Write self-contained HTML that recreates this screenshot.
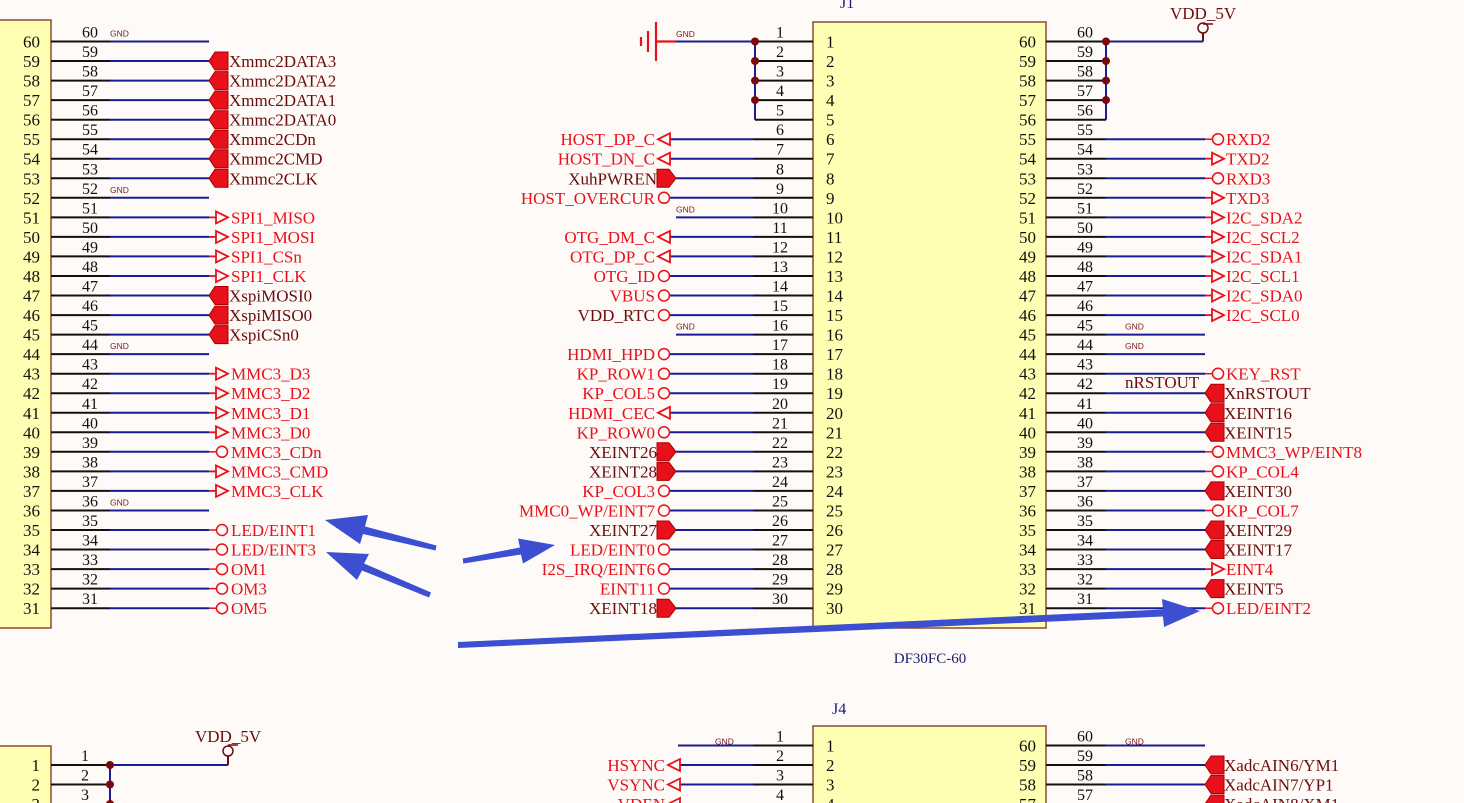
<!DOCTYPE html><html><head><meta charset="utf-8"><style>
html,body{margin:0;padding:0;background:#fdfaf7}
svg{display:block}
text{font-family:"Liberation Serif",serif}
.pn{font-size:17px;fill:#111}
.pe{text-anchor:end}
.en{font-size:16px;fill:#111;text-anchor:middle}
.g{font-family:"Liberation Sans",sans-serif;font-size:8.5px;fill:#7a1a1a}
.r{font-size:17px;fill:#e8101a}
.d{font-size:17px;fill:#6b0d0d}
.bk{stroke:#111;stroke-width:2}
.bl{stroke:#1c1c96;stroke-width:2}
</style></head><body>
<svg width="1464" height="803" viewBox="0 0 1464 803" xmlns="http://www.w3.org/2000/svg">
<defs>
<g id="fL"><polygon points="0,0 6,-9 19,-9 19,9 6,9" fill="#e8101a" stroke="#a00" stroke-width="1"/></g>
<g id="tR" fill="none" stroke="#e8101a" stroke-width="1.8"><line x1="0" y1="0" x2="7" y2="0"/><polygon points="7,-6 19,0 7,6"/></g>
<g id="cR" fill="none" stroke="#e8101a" stroke-width="1.5"><line x1="0" y1="0" x2="7" y2="0"/><circle cx="13" cy="0" r="5.5"/></g>
<g id="fR"><polygon points="0,0 -7,-9 -19,-9 -19,9 -7,9" fill="#e8101a" stroke="#a00" stroke-width="1"/></g>
<g id="tL" fill="none" stroke="#e8101a" stroke-width="1.8"><polygon points="0,-6 -12,0 0,6"/></g>
<g id="cL" fill="none" stroke="#e8101a" stroke-width="1.5"><circle cx="-6" cy="0" r="5.5"/></g>
</defs>

<!-- LEFT BLOCK -->
<rect x="-2" y="20" width="53" height="608" fill="#ffffb4" stroke="#8c4a2f" stroke-width="1.5"/>
<g id="LB">
<g transform="translate(0,41.5)"><text class="pn pe" x="40" y="6">60</text><line class="bk" x1="51" x2="110"/><line class="bl" x1="110" x2="209"/><text class="en" x="90" y="-4">60</text><text class="g" x="110" y="-5">GND</text></g>
<g transform="translate(0,61)"><text class="pn pe" x="40" y="6">59</text><line class="bk" x1="51" x2="110"/><line class="bl" x1="110" x2="209"/><text class="en" x="90" y="-4">59</text><use href="#fL" x="209"/><text class="d" x="229" y="6">Xmmc2DATA3</text></g>
<g transform="translate(0,80.6)"><text class="pn pe" x="40" y="6">58</text><line class="bk" x1="51" x2="110"/><line class="bl" x1="110" x2="209"/><text class="en" x="90" y="-4">58</text><use href="#fL" x="209"/><text class="d" x="229" y="6">Xmmc2DATA2</text></g>
<g transform="translate(0,100.1)"><text class="pn pe" x="40" y="6">57</text><line class="bk" x1="51" x2="110"/><line class="bl" x1="110" x2="209"/><text class="en" x="90" y="-4">57</text><use href="#fL" x="209"/><text class="d" x="229" y="6">Xmmc2DATA1</text></g>
<g transform="translate(0,119.7)"><text class="pn pe" x="40" y="6">56</text><line class="bk" x1="51" x2="110"/><line class="bl" x1="110" x2="209"/><text class="en" x="90" y="-4">56</text><use href="#fL" x="209"/><text class="d" x="229" y="6">Xmmc2DATA0</text></g>
<g transform="translate(0,139.2)"><text class="pn pe" x="40" y="6">55</text><line class="bk" x1="51" x2="110"/><line class="bl" x1="110" x2="209"/><text class="en" x="90" y="-4">55</text><use href="#fL" x="209"/><text class="d" x="229" y="6">Xmmc2CDn</text></g>
<g transform="translate(0,158.7)"><text class="pn pe" x="40" y="6">54</text><line class="bk" x1="51" x2="110"/><line class="bl" x1="110" x2="209"/><text class="en" x="90" y="-4">54</text><use href="#fL" x="209"/><text class="d" x="229" y="6">Xmmc2CMD</text></g>
<g transform="translate(0,178.3)"><text class="pn pe" x="40" y="6">53</text><line class="bk" x1="51" x2="110"/><line class="bl" x1="110" x2="209"/><text class="en" x="90" y="-4">53</text><use href="#fL" x="209"/><text class="d" x="229" y="6">Xmmc2CLK</text></g>
<g transform="translate(0,197.8)"><text class="pn pe" x="40" y="6">52</text><line class="bk" x1="51" x2="110"/><line class="bl" x1="110" x2="209"/><text class="en" x="90" y="-4">52</text><text class="g" x="110" y="-5">GND</text></g>
<g transform="translate(0,217.4)"><text class="pn pe" x="40" y="6">51</text><line class="bk" x1="51" x2="110"/><line class="bl" x1="110" x2="209"/><text class="en" x="90" y="-4">51</text><use href="#tR" x="209"/><text class="r" x="231" y="6">SPI1_MISO</text></g>
<g transform="translate(0,236.9)"><text class="pn pe" x="40" y="6">50</text><line class="bk" x1="51" x2="110"/><line class="bl" x1="110" x2="209"/><text class="en" x="90" y="-4">50</text><use href="#tR" x="209"/><text class="r" x="231" y="6">SPI1_MOSI</text></g>
<g transform="translate(0,256.4)"><text class="pn pe" x="40" y="6">49</text><line class="bk" x1="51" x2="110"/><line class="bl" x1="110" x2="209"/><text class="en" x="90" y="-4">49</text><use href="#tR" x="209"/><text class="r" x="231" y="6">SPI1_CSn</text></g>
<g transform="translate(0,276)"><text class="pn pe" x="40" y="6">48</text><line class="bk" x1="51" x2="110"/><line class="bl" x1="110" x2="209"/><text class="en" x="90" y="-4">48</text><use href="#tR" x="209"/><text class="r" x="231" y="6">SPI1_CLK</text></g>
<g transform="translate(0,295.5)"><text class="pn pe" x="40" y="6">47</text><line class="bk" x1="51" x2="110"/><line class="bl" x1="110" x2="209"/><text class="en" x="90" y="-4">47</text><use href="#fL" x="209"/><text class="d" x="229" y="6">XspiMOSI0</text></g>
<g transform="translate(0,315.1)"><text class="pn pe" x="40" y="6">46</text><line class="bk" x1="51" x2="110"/><line class="bl" x1="110" x2="209"/><text class="en" x="90" y="-4">46</text><use href="#fL" x="209"/><text class="d" x="229" y="6">XspiMISO0</text></g>
<g transform="translate(0,334.6)"><text class="pn pe" x="40" y="6">45</text><line class="bk" x1="51" x2="110"/><line class="bl" x1="110" x2="209"/><text class="en" x="90" y="-4">45</text><use href="#fL" x="209"/><text class="d" x="229" y="6">XspiCSn0</text></g>
<g transform="translate(0,354.1)"><text class="pn pe" x="40" y="6">44</text><line class="bk" x1="51" x2="110"/><line class="bl" x1="110" x2="209"/><text class="en" x="90" y="-4">44</text><text class="g" x="110" y="-5">GND</text></g>
<g transform="translate(0,373.7)"><text class="pn pe" x="40" y="6">43</text><line class="bk" x1="51" x2="110"/><line class="bl" x1="110" x2="209"/><text class="en" x="90" y="-4">43</text><use href="#tR" x="209"/><text class="r" x="231" y="6">MMC3_D3</text></g>
<g transform="translate(0,393.2)"><text class="pn pe" x="40" y="6">42</text><line class="bk" x1="51" x2="110"/><line class="bl" x1="110" x2="209"/><text class="en" x="90" y="-4">42</text><use href="#tR" x="209"/><text class="r" x="231" y="6">MMC3_D2</text></g>
<g transform="translate(0,412.8)"><text class="pn pe" x="40" y="6">41</text><line class="bk" x1="51" x2="110"/><line class="bl" x1="110" x2="209"/><text class="en" x="90" y="-4">41</text><use href="#tR" x="209"/><text class="r" x="231" y="6">MMC3_D1</text></g>
<g transform="translate(0,432.3)"><text class="pn pe" x="40" y="6">40</text><line class="bk" x1="51" x2="110"/><line class="bl" x1="110" x2="209"/><text class="en" x="90" y="-4">40</text><use href="#tR" x="209"/><text class="r" x="231" y="6">MMC3_D0</text></g>
<g transform="translate(0,451.8)"><text class="pn pe" x="40" y="6">39</text><line class="bk" x1="51" x2="110"/><line class="bl" x1="110" x2="209"/><text class="en" x="90" y="-4">39</text><use href="#cR" x="209"/><text class="r" x="231" y="6">MMC3_CDn</text></g>
<g transform="translate(0,471.4)"><text class="pn pe" x="40" y="6">38</text><line class="bk" x1="51" x2="110"/><line class="bl" x1="110" x2="209"/><text class="en" x="90" y="-4">38</text><use href="#tR" x="209"/><text class="r" x="231" y="6">MMC3_CMD</text></g>
<g transform="translate(0,490.9)"><text class="pn pe" x="40" y="6">37</text><line class="bk" x1="51" x2="110"/><line class="bl" x1="110" x2="209"/><text class="en" x="90" y="-4">37</text><use href="#tR" x="209"/><text class="r" x="231" y="6">MMC3_CLK</text></g>
<g transform="translate(0,510.5)"><text class="pn pe" x="40" y="6">36</text><line class="bk" x1="51" x2="110"/><line class="bl" x1="110" x2="209"/><text class="en" x="90" y="-4">36</text><text class="g" x="110" y="-5">GND</text></g>
<g transform="translate(0,530)"><text class="pn pe" x="40" y="6">35</text><line class="bk" x1="51" x2="110"/><line class="bl" x1="110" x2="209"/><text class="en" x="90" y="-4">35</text><use href="#cR" x="209"/><text class="r" x="231" y="6">LED/EINT1</text></g>
<g transform="translate(0,549.5)"><text class="pn pe" x="40" y="6">34</text><line class="bk" x1="51" x2="110"/><line class="bl" x1="110" x2="209"/><text class="en" x="90" y="-4">34</text><use href="#cR" x="209"/><text class="r" x="231" y="6">LED/EINT3</text></g>
<g transform="translate(0,569.1)"><text class="pn pe" x="40" y="6">33</text><line class="bk" x1="51" x2="110"/><line class="bl" x1="110" x2="209"/><text class="en" x="90" y="-4">33</text><use href="#cR" x="209"/><text class="r" x="231" y="6">OM1</text></g>
<g transform="translate(0,588.6)"><text class="pn pe" x="40" y="6">32</text><line class="bk" x1="51" x2="110"/><line class="bl" x1="110" x2="209"/><text class="en" x="90" y="-4">32</text><use href="#cR" x="209"/><text class="r" x="231" y="6">OM3</text></g>
<g transform="translate(0,608.2)"><text class="pn pe" x="40" y="6">31</text><line class="bk" x1="51" x2="110"/><line class="bl" x1="110" x2="209"/><text class="en" x="90" y="-4">31</text><use href="#cR" x="209"/><text class="r" x="231" y="6">OM5</text></g>
</g>

<!-- J1 -->
<text x="840" y="8" font-size="16" fill="#1c1c80">J1</text>
<rect x="813" y="22" width="233" height="606" fill="#ffffb4" stroke="#8c4a2f" stroke-width="1.5"/>
<text x="930" y="663" font-size="15" fill="#1c1c6e" text-anchor="middle">DF30FC-60</text>
<g stroke="#e8101a" stroke-width="2.2"><line x1="641" y1="37" x2="641" y2="46"/><line x1="648" y1="31" x2="648" y2="52"/><line x1="656" y1="22" x2="656" y2="61"/><line x1="656" y1="41.5" x2="676" y2="41.5"/></g>
<text class="g" x="676" y="37">GND</text>
<line class="bl" x1="676" y1="41.5" x2="753" y2="41.5"/>
<line class="bl" x1="755" y1="41.5" x2="755" y2="119.7"/>
<g>
<g transform="translate(0,41.5)"><line class="bk" x1="755" x2="813"/><text class="en" x="780" y="-4">1</text><text class="pn" x="826" y="6">1</text><circle cx="755" r="4" fill="#7a0a0a"/></g>
<g transform="translate(0,61)"><line class="bk" x1="755" x2="813"/><text class="en" x="780" y="-4">2</text><text class="pn" x="826" y="6">2</text><circle cx="755" r="4" fill="#7a0a0a"/></g>
<g transform="translate(0,80.6)"><line class="bk" x1="755" x2="813"/><text class="en" x="780" y="-4">3</text><text class="pn" x="826" y="6">3</text><circle cx="755" r="4" fill="#7a0a0a"/></g>
<g transform="translate(0,100.1)"><line class="bk" x1="755" x2="813"/><text class="en" x="780" y="-4">4</text><text class="pn" x="826" y="6">4</text><circle cx="755" r="4" fill="#7a0a0a"/></g>
<g transform="translate(0,119.7)"><line class="bk" x1="755" x2="813"/><text class="en" x="780" y="-4">5</text><text class="pn" x="826" y="6">5</text></g>
<g transform="translate(0,139.2)"><line class="bk" x1="753" x2="813"/><line class="bl" x1="670" x2="753"/><text class="en" x="780" y="-4">6</text><text class="pn" x="826" y="6">6</text><use href="#tL" x="670"/><text class="r pe" x="655" y="6">HOST_DP_C</text></g>
<g transform="translate(0,158.7)"><line class="bk" x1="753" x2="813"/><line class="bl" x1="670" x2="753"/><text class="en" x="780" y="-4">7</text><text class="pn" x="826" y="6">7</text><use href="#tL" x="670"/><text class="r pe" x="655" y="6">HOST_DN_C</text></g>
<g transform="translate(0,178.3)"><line class="bk" x1="753" x2="813"/><line class="bl" x1="676" x2="753"/><text class="en" x="780" y="-4">8</text><text class="pn" x="826" y="6">8</text><use href="#fR" x="676"/><text class="d pe" x="657" y="6">XuhPWREN</text></g>
<g transform="translate(0,197.8)"><line class="bk" x1="753" x2="813"/><line class="bl" x1="670" x2="753"/><text class="en" x="780" y="-4">9</text><text class="pn" x="826" y="6">9</text><use href="#cL" x="670"/><text class="r pe" x="655" y="6">HOST_OVERCUR</text></g>
<g transform="translate(0,217.4)"><line class="bk" x1="753" x2="813"/><line class="bl" x1="676" x2="753"/><text class="en" x="780" y="-4">10</text><text class="pn" x="826" y="6">10</text><text class="g" x="676" y="-5">GND</text></g>
<g transform="translate(0,236.9)"><line class="bk" x1="753" x2="813"/><line class="bl" x1="670" x2="753"/><text class="en" x="780" y="-4">11</text><text class="pn" x="826" y="6">11</text><use href="#tL" x="670"/><text class="r pe" x="655" y="6">OTG_DM_C</text></g>
<g transform="translate(0,256.4)"><line class="bk" x1="753" x2="813"/><line class="bl" x1="670" x2="753"/><text class="en" x="780" y="-4">12</text><text class="pn" x="826" y="6">12</text><use href="#tL" x="670"/><text class="r pe" x="655" y="6">OTG_DP_C</text></g>
<g transform="translate(0,276)"><line class="bk" x1="753" x2="813"/><line class="bl" x1="670" x2="753"/><text class="en" x="780" y="-4">13</text><text class="pn" x="826" y="6">13</text><use href="#cL" x="670"/><text class="r pe" x="655" y="6">OTG_ID</text></g>
<g transform="translate(0,295.5)"><line class="bk" x1="753" x2="813"/><line class="bl" x1="670" x2="753"/><text class="en" x="780" y="-4">14</text><text class="pn" x="826" y="6">14</text><use href="#cL" x="670"/><text class="r pe" x="655" y="6">VBUS</text></g>
<g transform="translate(0,315.1)"><line class="bk" x1="753" x2="813"/><line class="bl" x1="670" x2="753"/><text class="en" x="780" y="-4">15</text><text class="pn" x="826" y="6">15</text><use href="#cL" x="670" style="stroke:#6b0d0d"/><text class="d pe" x="655" y="6">VDD_RTC</text></g>
<g transform="translate(0,334.6)"><line class="bk" x1="753" x2="813"/><line class="bl" x1="676" x2="753"/><text class="en" x="780" y="-4">16</text><text class="pn" x="826" y="6">16</text><text class="g" x="676" y="-5">GND</text></g>
<g transform="translate(0,354.1)"><line class="bk" x1="753" x2="813"/><line class="bl" x1="670" x2="753"/><text class="en" x="780" y="-4">17</text><text class="pn" x="826" y="6">17</text><use href="#cL" x="670"/><text class="r pe" x="655" y="6">HDMI_HPD</text></g>
<g transform="translate(0,373.7)"><line class="bk" x1="753" x2="813"/><line class="bl" x1="670" x2="753"/><text class="en" x="780" y="-4">18</text><text class="pn" x="826" y="6">18</text><use href="#cL" x="670"/><text class="r pe" x="655" y="6">KP_ROW1</text></g>
<g transform="translate(0,393.2)"><line class="bk" x1="753" x2="813"/><line class="bl" x1="670" x2="753"/><text class="en" x="780" y="-4">19</text><text class="pn" x="826" y="6">19</text><use href="#cL" x="670"/><text class="r pe" x="655" y="6">KP_COL5</text></g>
<g transform="translate(0,412.8)"><line class="bk" x1="753" x2="813"/><line class="bl" x1="670" x2="753"/><text class="en" x="780" y="-4">20</text><text class="pn" x="826" y="6">20</text><use href="#tL" x="670"/><text class="r pe" x="655" y="6">HDMI_CEC</text></g>
<g transform="translate(0,432.3)"><line class="bk" x1="753" x2="813"/><line class="bl" x1="670" x2="753"/><text class="en" x="780" y="-4">21</text><text class="pn" x="826" y="6">21</text><use href="#cL" x="670"/><text class="r pe" x="655" y="6">KP_ROW0</text></g>
<g transform="translate(0,451.8)"><line class="bk" x1="753" x2="813"/><line class="bl" x1="676" x2="753"/><text class="en" x="780" y="-4">22</text><text class="pn" x="826" y="6">22</text><use href="#fR" x="676"/><text class="d pe" x="657" y="6">XEINT26</text></g>
<g transform="translate(0,471.4)"><line class="bk" x1="753" x2="813"/><line class="bl" x1="676" x2="753"/><text class="en" x="780" y="-4">23</text><text class="pn" x="826" y="6">23</text><use href="#fR" x="676"/><text class="d pe" x="657" y="6">XEINT28</text></g>
<g transform="translate(0,490.9)"><line class="bk" x1="753" x2="813"/><line class="bl" x1="670" x2="753"/><text class="en" x="780" y="-4">24</text><text class="pn" x="826" y="6">24</text><use href="#cL" x="670"/><text class="r pe" x="655" y="6">KP_COL3</text></g>
<g transform="translate(0,510.5)"><line class="bk" x1="753" x2="813"/><line class="bl" x1="670" x2="753"/><text class="en" x="780" y="-4">25</text><text class="pn" x="826" y="6">25</text><use href="#cL" x="670"/><text class="r pe" x="655" y="6">MMC0_WP/EINT7</text></g>
<g transform="translate(0,530)"><line class="bk" x1="753" x2="813"/><line class="bl" x1="676" x2="753"/><text class="en" x="780" y="-4">26</text><text class="pn" x="826" y="6">26</text><use href="#fR" x="676"/><text class="d pe" x="657" y="6">XEINT27</text></g>
<g transform="translate(0,549.5)"><line class="bk" x1="753" x2="813"/><line class="bl" x1="670" x2="753"/><text class="en" x="780" y="-4">27</text><text class="pn" x="826" y="6">27</text><use href="#cL" x="670"/><text class="r pe" x="655" y="6">LED/EINT0</text></g>
<g transform="translate(0,569.1)"><line class="bk" x1="753" x2="813"/><line class="bl" x1="670" x2="753"/><text class="en" x="780" y="-4">28</text><text class="pn" x="826" y="6">28</text><use href="#cL" x="670"/><text class="r pe" x="655" y="6">I2S_IRQ/EINT6</text></g>
<g transform="translate(0,588.6)"><line class="bk" x1="753" x2="813"/><line class="bl" x1="670" x2="753"/><text class="en" x="780" y="-4">29</text><text class="pn" x="826" y="6">29</text><use href="#cL" x="670"/><text class="r pe" x="655" y="6">EINT11</text></g>
<g transform="translate(0,608.2)"><line class="bk" x1="753" x2="813"/><line class="bl" x1="676" x2="753"/><text class="en" x="780" y="-4">30</text><text class="pn" x="826" y="6">30</text><use href="#fR" x="676"/><text class="d pe" x="657" y="6">XEINT18</text></g>
</g>

<!-- J1 right -->
<text x="1170" y="19" font-size="17" fill="#6b0d0d">VDD_5V</text>
<line x1="1203" y1="24" x2="1213" y2="24" stroke="#6b0d0d" stroke-width="1.5"/>
<circle cx="1203" cy="28" r="5" fill="none" stroke="#6b0d0d" stroke-width="1.5"/>
<line x1="1203" y1="33" x2="1203" y2="41.5" stroke="#6b0d0d" stroke-width="2"/>
<line class="bl" x1="1106" y1="41.5" x2="1203" y2="41.5"/>
<line class="bl" x1="1106" y1="41.5" x2="1106" y2="119.7"/>
<g>
<g transform="translate(0,41.5)"><line class="bk" x1="1046" x2="1106"/><text class="en" x="1085" y="-4">60</text><text class="pn pe" x="1036" y="6">60</text><circle cx="1106" r="4" fill="#7a0a0a"/></g>
<g transform="translate(0,61)"><line class="bk" x1="1046" x2="1106"/><text class="en" x="1085" y="-4">59</text><text class="pn pe" x="1036" y="6">59</text><circle cx="1106" r="4" fill="#7a0a0a"/></g>
<g transform="translate(0,80.6)"><line class="bk" x1="1046" x2="1106"/><text class="en" x="1085" y="-4">58</text><text class="pn pe" x="1036" y="6">58</text><circle cx="1106" r="4" fill="#7a0a0a"/></g>
<g transform="translate(0,100.1)"><line class="bk" x1="1046" x2="1106"/><text class="en" x="1085" y="-4">57</text><text class="pn pe" x="1036" y="6">57</text><circle cx="1106" r="4" fill="#7a0a0a"/></g>
<g transform="translate(0,119.7)"><line class="bk" x1="1046" x2="1106"/><text class="en" x="1085" y="-4">56</text><text class="pn pe" x="1036" y="6">56</text></g>
<g transform="translate(0,139.2)"><line class="bk" x1="1046" x2="1106"/><line class="bl" x1="1106" x2="1205"/><text class="en" x="1085" y="-4">55</text><text class="pn pe" x="1036" y="6">55</text><use href="#cR" x="1205"/><text class="r" x="1226" y="6">RXD2</text></g>
<g transform="translate(0,158.7)"><line class="bk" x1="1046" x2="1106"/><line class="bl" x1="1106" x2="1205"/><text class="en" x="1085" y="-4">54</text><text class="pn pe" x="1036" y="6">54</text><use href="#tR" x="1205"/><text class="r" x="1226" y="6">TXD2</text></g>
<g transform="translate(0,178.3)"><line class="bk" x1="1046" x2="1106"/><line class="bl" x1="1106" x2="1205"/><text class="en" x="1085" y="-4">53</text><text class="pn pe" x="1036" y="6">53</text><use href="#cR" x="1205"/><text class="r" x="1226" y="6">RXD3</text></g>
<g transform="translate(0,197.8)"><line class="bk" x1="1046" x2="1106"/><line class="bl" x1="1106" x2="1205"/><text class="en" x="1085" y="-4">52</text><text class="pn pe" x="1036" y="6">52</text><use href="#tR" x="1205"/><text class="r" x="1226" y="6">TXD3</text></g>
<g transform="translate(0,217.4)"><line class="bk" x1="1046" x2="1106"/><line class="bl" x1="1106" x2="1205"/><text class="en" x="1085" y="-4">51</text><text class="pn pe" x="1036" y="6">51</text><use href="#tR" x="1205"/><text class="r" x="1226" y="6">I2C_SDA2</text></g>
<g transform="translate(0,236.9)"><line class="bk" x1="1046" x2="1106"/><line class="bl" x1="1106" x2="1205"/><text class="en" x="1085" y="-4">50</text><text class="pn pe" x="1036" y="6">50</text><use href="#tR" x="1205"/><text class="r" x="1226" y="6">I2C_SCL2</text></g>
<g transform="translate(0,256.4)"><line class="bk" x1="1046" x2="1106"/><line class="bl" x1="1106" x2="1205"/><text class="en" x="1085" y="-4">49</text><text class="pn pe" x="1036" y="6">49</text><use href="#tR" x="1205"/><text class="r" x="1226" y="6">I2C_SDA1</text></g>
<g transform="translate(0,276)"><line class="bk" x1="1046" x2="1106"/><line class="bl" x1="1106" x2="1205"/><text class="en" x="1085" y="-4">48</text><text class="pn pe" x="1036" y="6">48</text><use href="#tR" x="1205"/><text class="r" x="1226" y="6">I2C_SCL1</text></g>
<g transform="translate(0,295.5)"><line class="bk" x1="1046" x2="1106"/><line class="bl" x1="1106" x2="1205"/><text class="en" x="1085" y="-4">47</text><text class="pn pe" x="1036" y="6">47</text><use href="#tR" x="1205"/><text class="r" x="1226" y="6">I2C_SDA0</text></g>
<g transform="translate(0,315.1)"><line class="bk" x1="1046" x2="1106"/><line class="bl" x1="1106" x2="1205"/><text class="en" x="1085" y="-4">46</text><text class="pn pe" x="1036" y="6">46</text><use href="#tR" x="1205"/><text class="r" x="1226" y="6">I2C_SCL0</text></g>
<g transform="translate(0,334.6)"><line class="bk" x1="1046" x2="1106"/><line class="bl" x1="1106" x2="1205"/><text class="en" x="1085" y="-4">45</text><text class="pn pe" x="1036" y="6">45</text><text class="g" x="1125" y="-5">GND</text></g>
<g transform="translate(0,354.1)"><line class="bk" x1="1046" x2="1106"/><line class="bl" x1="1106" x2="1205"/><text class="en" x="1085" y="-4">44</text><text class="pn pe" x="1036" y="6">44</text><text class="g" x="1125" y="-5">GND</text></g>
<g transform="translate(0,373.7)"><line class="bk" x1="1046" x2="1106"/><line class="bl" x1="1106" x2="1205"/><text class="en" x="1085" y="-4">43</text><text class="pn pe" x="1036" y="6">43</text><use href="#cR" x="1205"/><text class="r" x="1226" y="6">KEY_RST</text></g>
<g transform="translate(0,393.2)"><line class="bk" x1="1046" x2="1106"/><line class="bl" x1="1106" x2="1205"/><text class="en" x="1085" y="-4">42</text><text class="pn pe" x="1036" y="6">42</text><text class="d" x="1125" y="-5">nRSTOUT</text><use href="#fL" x="1205"/><text class="d" x="1224" y="6">XnRSTOUT</text></g>
<g transform="translate(0,412.8)"><line class="bk" x1="1046" x2="1106"/><line class="bl" x1="1106" x2="1205"/><text class="en" x="1085" y="-4">41</text><text class="pn pe" x="1036" y="6">41</text><use href="#fL" x="1205"/><text class="d" x="1224" y="6">XEINT16</text></g>
<g transform="translate(0,432.3)"><line class="bk" x1="1046" x2="1106"/><line class="bl" x1="1106" x2="1205"/><text class="en" x="1085" y="-4">40</text><text class="pn pe" x="1036" y="6">40</text><use href="#fL" x="1205"/><text class="d" x="1224" y="6">XEINT15</text></g>
<g transform="translate(0,451.8)"><line class="bk" x1="1046" x2="1106"/><line class="bl" x1="1106" x2="1205"/><text class="en" x="1085" y="-4">39</text><text class="pn pe" x="1036" y="6">39</text><use href="#cR" x="1205"/><text class="r" x="1226" y="6">MMC3_WP/EINT8</text></g>
<g transform="translate(0,471.4)"><line class="bk" x1="1046" x2="1106"/><line class="bl" x1="1106" x2="1205"/><text class="en" x="1085" y="-4">38</text><text class="pn pe" x="1036" y="6">38</text><use href="#cR" x="1205"/><text class="r" x="1226" y="6">KP_COL4</text></g>
<g transform="translate(0,490.9)"><line class="bk" x1="1046" x2="1106"/><line class="bl" x1="1106" x2="1205"/><text class="en" x="1085" y="-4">37</text><text class="pn pe" x="1036" y="6">37</text><use href="#fL" x="1205"/><text class="d" x="1224" y="6">XEINT30</text></g>
<g transform="translate(0,510.5)"><line class="bk" x1="1046" x2="1106"/><line class="bl" x1="1106" x2="1205"/><text class="en" x="1085" y="-4">36</text><text class="pn pe" x="1036" y="6">36</text><use href="#cR" x="1205"/><text class="r" x="1226" y="6">KP_COL7</text></g>
<g transform="translate(0,530)"><line class="bk" x1="1046" x2="1106"/><line class="bl" x1="1106" x2="1205"/><text class="en" x="1085" y="-4">35</text><text class="pn pe" x="1036" y="6">35</text><use href="#fL" x="1205"/><text class="d" x="1224" y="6">XEINT29</text></g>
<g transform="translate(0,549.5)"><line class="bk" x1="1046" x2="1106"/><line class="bl" x1="1106" x2="1205"/><text class="en" x="1085" y="-4">34</text><text class="pn pe" x="1036" y="6">34</text><use href="#fL" x="1205"/><text class="d" x="1224" y="6">XEINT17</text></g>
<g transform="translate(0,569.1)"><line class="bk" x1="1046" x2="1106"/><line class="bl" x1="1106" x2="1205"/><text class="en" x="1085" y="-4">33</text><text class="pn pe" x="1036" y="6">33</text><use href="#tR" x="1205"/><text class="r" x="1226" y="6">EINT4</text></g>
<g transform="translate(0,588.6)"><line class="bk" x1="1046" x2="1106"/><line class="bl" x1="1106" x2="1205"/><text class="en" x="1085" y="-4">32</text><text class="pn pe" x="1036" y="6">32</text><use href="#fL" x="1205"/><text class="d" x="1224" y="6">XEINT5</text></g>
<g transform="translate(0,608.2)"><line class="bk" x1="1046" x2="1106"/><line class="bl" x1="1106" x2="1205"/><text class="en" x="1085" y="-4">31</text><text class="pn pe" x="1036" y="6">31</text><use href="#cR" x="1205"/><text class="r" x="1226" y="6">LED/EINT2</text></g>
</g>

<!-- Bottom left block -->
<rect x="-2" y="746" width="53" height="70" fill="#ffffb4" stroke="#8c4a2f" stroke-width="1.5"/>
<text x="195" y="742" font-size="17" fill="#6b0d0d">VDD_5V</text>
<line x1="228" y1="745" x2="238" y2="745" stroke="#6b0d0d" stroke-width="1.5"/>
<circle cx="228" cy="751" r="5" fill="none" stroke="#6b0d0d" stroke-width="1.5"/>
<line x1="228" y1="756" x2="228" y2="765" stroke="#6b0d0d" stroke-width="2"/>
<line class="bl" x1="110" y1="765" x2="228" y2="765"/>
<line class="bl" x1="110" y1="765" x2="110" y2="803"/>
<g transform="translate(0,765)"><text class="pn pe" x="40" y="6">1</text><line class="bk" x1="51" x2="110"/><text class="en" x="85" y="-4">1</text><circle cx="110" r="4" fill="#7a0a0a"/></g>
<g transform="translate(0,784.5)"><text class="pn pe" x="40" y="6">2</text><line class="bk" x1="51" x2="110"/><text class="en" x="85" y="-4">2</text><circle cx="110" r="4" fill="#7a0a0a"/></g>
<g transform="translate(0,804)"><text class="pn pe" x="40" y="6">3</text><line class="bk" x1="51" x2="110"/><text class="en" x="85" y="-4">3</text><circle cx="110" r="4" fill="#7a0a0a"/></g>

<!-- J4 -->
<text x="832" y="714" font-size="16" fill="#1c1c80">J4</text>
<rect x="813" y="726" width="233" height="100" fill="#ffffb4" stroke="#8c4a2f" stroke-width="1.5"/>
<g transform="translate(0,745.5)"><line class="bk" x1="753" x2="813"/><line class="bl" x1="678" x2="753"/><text class="en" x="780" y="-4">1</text><text class="pn" x="826" y="6">1</text><text class="g" x="715" y="-1">GND</text></g>
<g transform="translate(0,765)"><line class="bk" x1="753" x2="813"/><line class="bl" x1="680" x2="753"/><text class="en" x="780" y="-4">2</text><text class="pn" x="826" y="6">2</text><use href="#tL" x="680"/><text class="r pe" x="665" y="6">HSYNC</text></g>
<g transform="translate(0,784.5)"><line class="bk" x1="753" x2="813"/><line class="bl" x1="680" x2="753"/><text class="en" x="780" y="-4">3</text><text class="pn" x="826" y="6">3</text><use href="#tL" x="680"/><text class="r pe" x="665" y="6">VSYNC</text></g>
<g transform="translate(0,804)"><line class="bk" x1="753" x2="813"/><line class="bl" x1="680" x2="753"/><text class="en" x="780" y="-4">4</text><text class="pn" x="826" y="6">4</text><use href="#tL" x="680"/><text class="r pe" x="665" y="6">VDEN</text></g>
<g transform="translate(0,745.5)"><line class="bk" x1="1046" x2="1106"/><line class="bl" x1="1106" x2="1205"/><text class="en" x="1085" y="-4">60</text><text class="pn pe" x="1036" y="6">60</text><text class="g" x="1125" y="-1">GND</text></g>
<g transform="translate(0,765)"><line class="bk" x1="1046" x2="1106"/><line class="bl" x1="1106" x2="1205"/><text class="en" x="1085" y="-4">59</text><text class="pn pe" x="1036" y="6">59</text><use href="#fL" x="1205"/><text class="d" x="1224" y="6">XadcAIN6/YM1</text></g>
<g transform="translate(0,784.5)"><line class="bk" x1="1046" x2="1106"/><line class="bl" x1="1106" x2="1205"/><text class="en" x="1085" y="-4">58</text><text class="pn pe" x="1036" y="6">58</text><use href="#fL" x="1205"/><text class="d" x="1224" y="6">XadcAIN7/YP1</text></g>
<g transform="translate(0,804)"><line class="bk" x1="1046" x2="1106"/><line class="bl" x1="1106" x2="1205"/><text class="en" x="1085" y="-4">57</text><text class="pn pe" x="1036" y="6">57</text><use href="#fL" x="1205"/><text class="d" x="1224" y="6">XadcAIN8/XM1</text></g>

<!-- annotation arrows -->
<g fill="#3b4fd0">
<polygon points="436.5,545.5 365,526.5 368,515 325,520 360,544 363,534 435.5,550.5"/>
<polygon points="431,592.5 364,563.5 369,554 326,552 357,580 362,570.5 429,597.5"/>
<polygon points="462.7,558.5 520,547.5 518,538.5 555,545 523,563.5 521,554.5 463.3,563.5"/>
<polygon points="458,642 1163,609.5 1162,599 1200,611 1164,627 1163,616.5 458,648"/>
</g>
</svg>
</body></html>
